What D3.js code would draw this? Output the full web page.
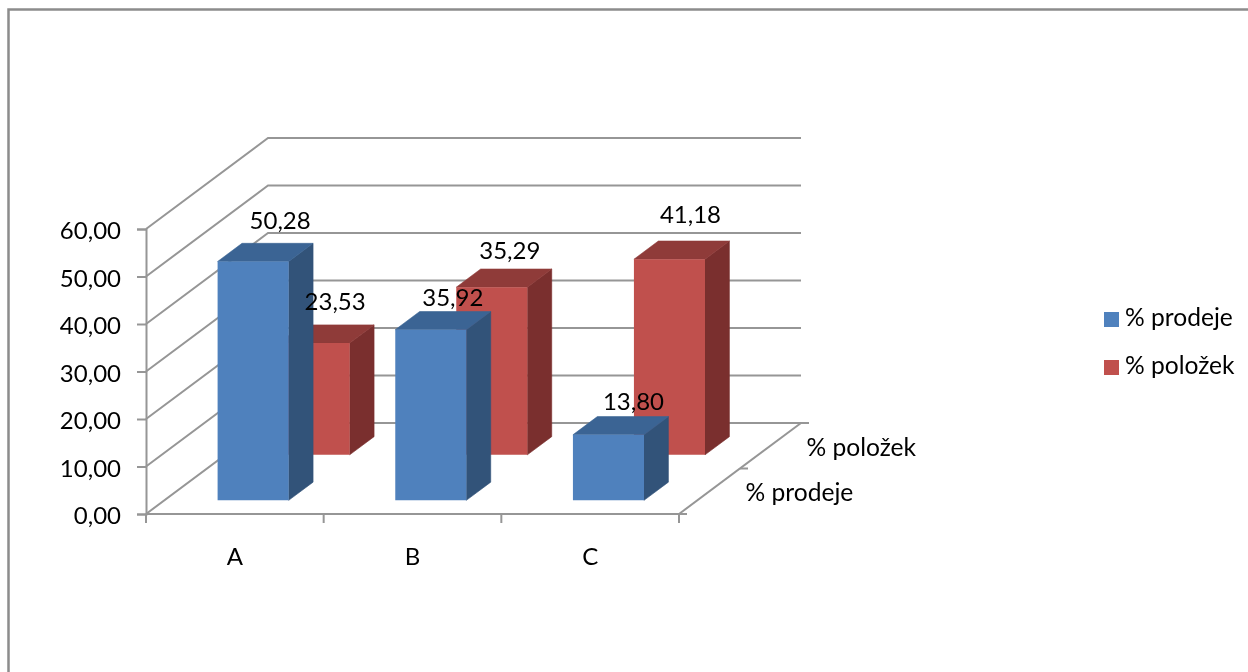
<!DOCTYPE html>
<html>
<head>
<meta charset="utf-8">
<script src="https://cdn.jsdelivr.net/npm/d3@7"></script>
<style>
  body { margin: 0; background: #fff; }
  svg { filter: blur(0.4px); }
  text { font-family: Lato, "Open Sans", sans-serif; font-size: 24px; fill: #000; }
  text.series { font-size: 24.6px; }
</style>
</head>
<body>
<div id="chart"></div>
<script>
const categories = ["A", "B", "C"];
const seriesNames = ["% prodeje", "% položek"];
const prodeje = [50.28, 35.92, 13.80];
const polozek = [23.53, 35.29, 41.18];
const yTicks = [0, 10, 20, 30, 40, 50, 60];

// front, top and side colours per series
const colors = [
    { front: "#4f81bd", top: "#3b6494", side: "#325379" },
    { front: "#c0504d", top: "#8f3b39", side: "#7a2f2e" }
];
const gridColor = "#969696";

// small hand nudges for the data labels, excel places them unevenly
const labelNudge = [
    [[3, -3], [-2, 6], [1, 5]],
    [[-3, -3], [-6, 2], [-3, -6]]
];

const svg = d3.select("#chart").append("svg")
    .attr("width", 1248)
    .attr("height", 672)
    .style("display", "block");

// Outer frame, only top and left edges are visible
svg.append("path")
    .attr("d", "M8.5,672V9.5H1248")
    .attr("fill", "none")
    .attr("stroke", "#8c8c8c")
    .attr("stroke-width", 2.5);

const x = d3.scaleBand()
    .domain(categories)
    .range([146, 679])
    .paddingInner(0.6)
    .paddingOuter(0.3);

const y = d3.scaleLinear()
    .domain([0, 60])
    .range([514, 229]);

// depth runs from 0 (front of the floor) to 1 (back wall)
const depth = d3.scaleBand()
    .domain(seriesNames)
    .range([0, 1])
    .paddingInner(0.6)
    .paddingOuter(0.3);

const depthX = 122, depthY = -91;
const px = (xv, d) => xv + d * depthX;
const py = (yv, d) => yv + d * depthY;
const poly = pts => "M" + pts.map(p => p.join(",")).join("L") + "Z";

// Walls: each gridline goes up the side wall and then along the back wall
const grid = svg.append("g");
yTicks.forEach(t => {
    const x0 = x.range()[0], x1 = x.range()[1];
    grid.append("path")
        .attr("d", `M${x0},${y(t)}L${px(x0, 1)},${py(y(t), 1)}L${px(x1, 1)},${py(y(t), 1)}`)
        .attr("fill", "none")
        .attr("stroke", gridColor)
        .attr("stroke-width", 2);
});

// Floor edge on the right and the depth axis ticks
const [fx0, fx1] = x.range();
grid.append("line")
    .attr("x1", fx1).attr("y1", y(0))
    .attr("x2", px(fx1, 1)).attr("y2", py(y(0), 1))
    .attr("stroke", gridColor)
    .attr("stroke-width", 2);
[0, 0.5, 1].forEach(d => {
    grid.append("line")
        .attr("x1", px(fx1, d)).attr("y1", py(y(0), d))
        .attr("x2", px(fx1, d) + 8).attr("y2", py(y(0), d))
        .attr("stroke", gridColor)
        .attr("stroke-width", 2);
});

// Y axis
const yAxis = svg.append("g")
    .attr("transform", `translate(${fx0},0)`)
    .attr("font-size", null)
    .attr("font-family", null)
    .call(d3.axisLeft(y)
        .tickValues(yTicks)
        .tickSize(9)
        .tickPadding(16)
        .tickFormat(d => d3.format(".2f")(d).replace(".", ",")));
yAxis.attr("font-size", null).attr("font-family", null);
yAxis.selectAll("line,path").attr("stroke", gridColor).attr("stroke-width", 2);
yAxis.selectAll("text").attr("dy", "0.4em");

// X axis, the ticks sit between the categories
const xAxis = svg.append("g")
    .attr("transform", `translate(0,${y(0)})`)
    .call(d3.axisBottom(x).tickSize(0).tickPadding(34));
xAxis.attr("font-size", null).attr("font-family", null);
xAxis.select("path").attr("stroke", gridColor).attr("stroke-width", 2)
    .attr("d", `M${fx0},0H${fx1}`);
d3.range(categories.length + 1).forEach(i => {
    xAxis.append("line")
        .attr("x1", fx0 + i * x.step()).attr("x2", fx0 + i * x.step())
        .attr("y1", 0).attr("y2", 9)
        .attr("stroke", gridColor)
        .attr("stroke-width", 2);
});

// Bars, back series first so the front series overlaps it
const allValues = [prodeje, polozek];
const bars = [];
[1, 0].forEach(s => {
    categories.forEach((c, i) => {
        bars.push({ s, c, i, value: allValues[s][i] });
    });
});

const barGroups = svg.selectAll("g.bar")
    .data(bars)
    .join("g")
    .attr("class", "bar");

barGroups.each(function (d) {
    const g = d3.select(this);
    const d0 = depth(seriesNames[d.s]);
    const d1 = d0 + depth.bandwidth();
    const xl = x(d.c), xr = xl + x.bandwidth();
    const yb = y(0), yt = y(d.value);
    const col = colors[d.s];

    // stroke in the face colour closes the seams between the faces
    g.append("path")
        .attr("fill", col.side)
        .attr("stroke", col.side)
        .attr("stroke-width", 0.6)
        .attr("d", poly([[px(xr, d0), py(yt, d0)], [px(xr, d1), py(yt, d1)],
                         [px(xr, d1), py(yb, d1)], [px(xr, d0), py(yb, d0)]]));
    g.append("path")
        .attr("fill", col.top)
        .attr("stroke", col.top)
        .attr("stroke-width", 0.6)
        .attr("d", poly([[px(xl, d0), py(yt, d0)], [px(xl, d1), py(yt, d1)],
                         [px(xr, d1), py(yt, d1)], [px(xr, d0), py(yt, d0)]]));
    g.append("path")
        .attr("fill", col.front)
        .attr("d", poly([[px(xl, d0), py(yt, d0)], [px(xr, d0), py(yt, d0)],
                         [px(xr, d0), py(yb, d0)], [px(xl, d0), py(yb, d0)]]));
});

// Data labels go on top of everything
svg.selectAll("text.value")
    .data(bars)
    .join("text")
    .attr("class", "value")
    .attr("text-anchor", "middle")
    .attr("x", d => {
        const d0 = depth(seriesNames[d.s]);
        return px(x(d.c) + x.bandwidth() / 2, d0) + 24 + labelNudge[d.s][d.i][0];
    })
    .attr("y", d => {
        const d0 = depth(seriesNames[d.s]);
        return py(y(d.value), d0) - 30 + labelNudge[d.s][d.i][1];
    })
    .text(d => d3.format(".2f")(d.value).replace(".", ","));

// Depth axis labels
seriesNames.forEach(name => {
    const d0 = depth(name) + depth.bandwidth() / 2;
    svg.append("text")
        .attr("class", "series")
        .attr("x", px(fx1, d0) + 36)
        .attr("y", py(y(0), d0) + 10)
        .text(name);
});

// Legend
const legend = svg.selectAll("g.legend")
    .data(seriesNames)
    .join("g")
    .attr("class", "legend")
    .attr("transform", (d, i) => `translate(1104,${312 + i * 48})`);
legend.append("rect")
    .attr("width", 15)
    .attr("height", 15)
    .attr("fill", (d, i) => colors[i].front);
legend.append("text")
    .attr("class", "series")
    .attr("x", 21)
    .attr("y", 14)
    .text(d => d);
</script>
</body>
</html>
